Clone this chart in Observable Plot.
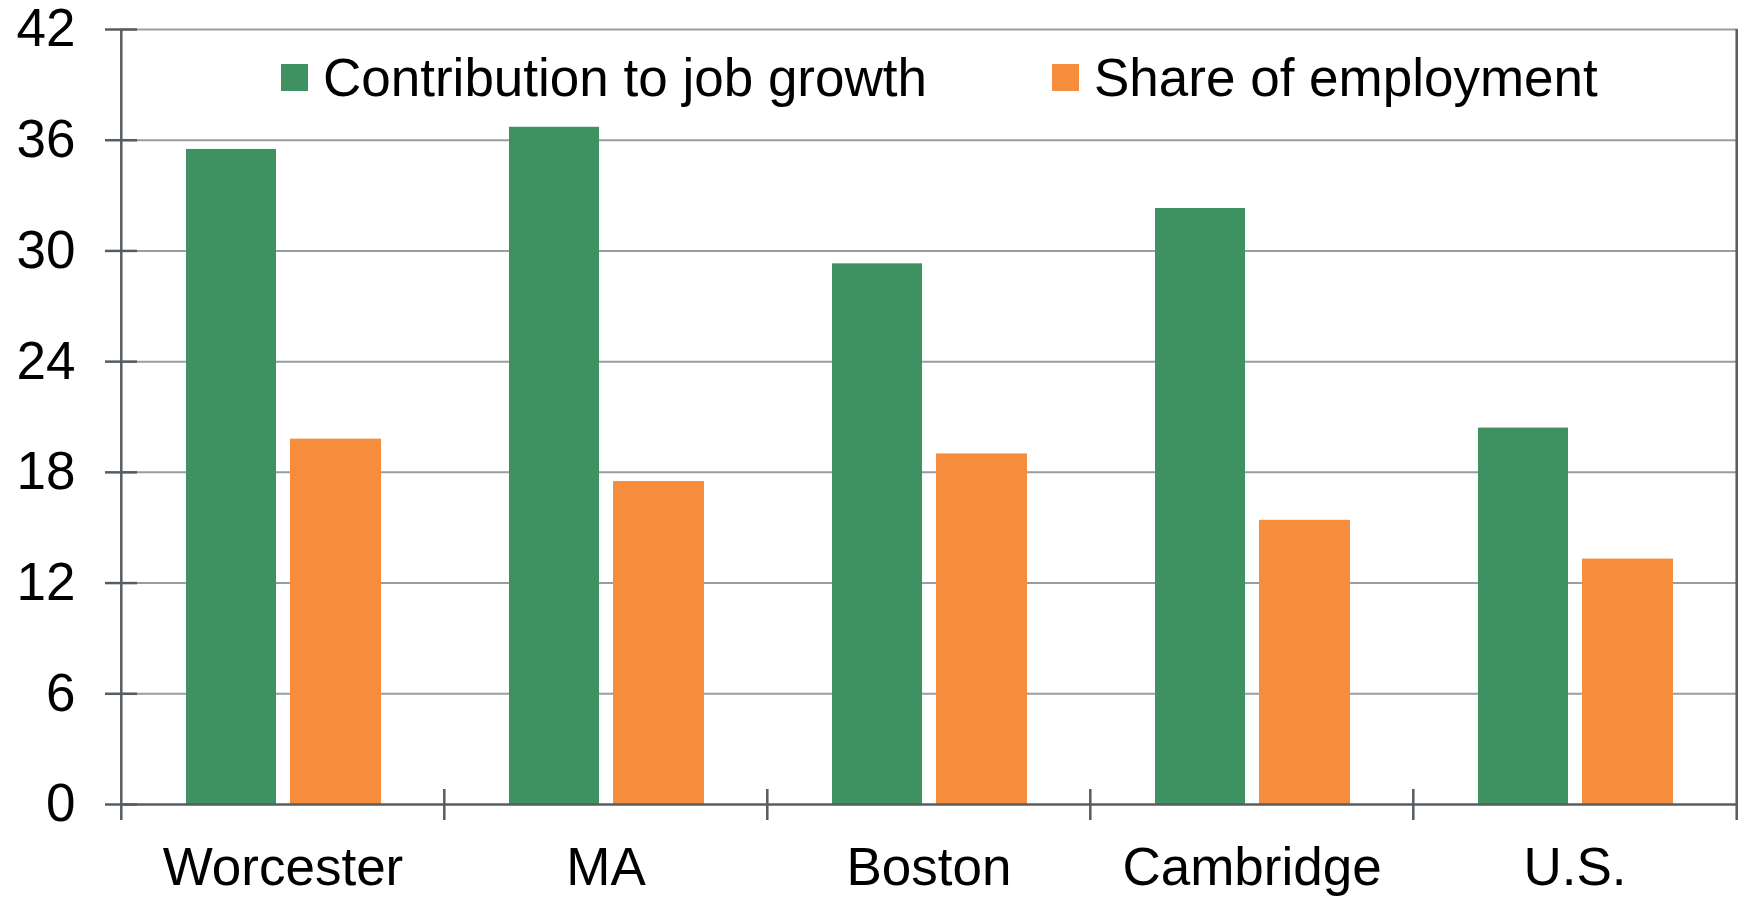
<!DOCTYPE html>
<html>
<head>
<meta charset="utf-8">
<script src="https://cdn.jsdelivr.net/npm/d3@7"></script>
<script src="https://cdn.jsdelivr.net/npm/@observablehq/plot@0.6"></script>
<style>
  html, body { margin: 0; padding: 0; background: #fff; }
  #wrap { position: relative; width: 1743px; height: 897px; font-family: "Liberation Sans", Arial, sans-serif; }
  #wrap svg { overflow: visible; }
  .leg { position: absolute; display: flex; align-items: center; font-size: 53px; line-height: 53px; color: #000; white-space: nowrap; }
  .sw { width: 27px; height: 27px; margin-right: 15px; }
</style>
</head>
<body>
<div id="wrap"></div>
<script>
const categories = ["Worcester", "MA", "Boston", "Cambridge", "U.S."];
const jobGrowth = [35.5, 36.7, 29.3, 32.3, 20.4];
const employmentShare = [19.8, 17.5, 19.0, 15.4, 13.3];
const seriesNames = ["Contribution to job growth", "Share of employment"];
const seriesColors = ["#3e9160", "#f58d3c"];
const yTicks = [0, 6, 12, 18, 24, 30, 36, 42];

const rows = categories.map((c, i) => ({category: c, growth: jobGrowth[i], share: employmentShare[i]}));

const W = 1743, H = 897, mL = 120, mR = 6, mT = 29, mB = 93;
const bw = (W - mL - mR) / categories.length;
const axisColor = "#575c61";
const gridColor = "#999ca0";

const chart = Plot.plot({
  width: W, height: H,
  marginTop: mT, marginBottom: mB, marginLeft: mL, marginRight: mR,
  style: {fontFamily: "'Liberation Sans', Arial, sans-serif", fontSize: "53px", color: "#000", background: "#fff", overflow: "visible"},
  x: {domain: categories, padding: 0},
  y: {domain: [0, 42]},
  marks: [
    Plot.ruleY(yTicks.filter(d => d > 0), {stroke: gridColor, strokeWidth: 2}),
    Plot.barY(rows, {x: "category", y: "growth", fill: seriesColors[0], insetLeft: 65, insetRight: 168}),
    Plot.barY(rows, {x: "category", y: "share", fill: seriesColors[1], insetLeft: 169, insetRight: 63}),
    Plot.ruleY([0], {stroke: axisColor, strokeWidth: 2.5}),
    Plot.ruleY(yTicks, {stroke: axisColor, strokeWidth: 2.5, insetLeft: -15, insetRight: W - mL - mR - 17}),
    Plot.ruleX([categories[0]], {dx: -bw / 2, stroke: axisColor, strokeWidth: 2.5, insetBottom: -16}),
    Plot.ruleX([categories[categories.length - 1]], {dx: bw / 2, stroke: axisColor, strokeWidth: 2.5, insetBottom: -16}),
    Plot.ruleX(categories.slice(1), {dx: -bw / 2, y1: 0, y2: 0, insetTop: -15, insetBottom: -16, stroke: axisColor, strokeWidth: 2.5}),
    Plot.axisY({ticks: yTicks, tickSize: 0, tickPadding: 45, fontSize: 53, label: null, fill: "#000"}),
    Plot.axisX({tickSize: 0, tickPadding: 43, fontSize: 53, label: null, fill: "#000"})
  ]
});

const wrap = document.getElementById("wrap");
wrap.appendChild(chart);

const legendPos = [{left: 281, top: 51}, {left: 1052, top: 51}];
seriesNames.forEach((name, i) => {
  const item = document.createElement("div");
  item.className = "leg";
  item.style.left = legendPos[i].left + "px";
  item.style.top = legendPos[i].top + "px";
  const sw = document.createElement("span");
  sw.className = "sw";
  sw.style.background = seriesColors[i];
  const tx = document.createElement("span");
  tx.textContent = name;
  item.appendChild(sw);
  item.appendChild(tx);
  wrap.appendChild(item);
});
</script>
</body>
</html>
